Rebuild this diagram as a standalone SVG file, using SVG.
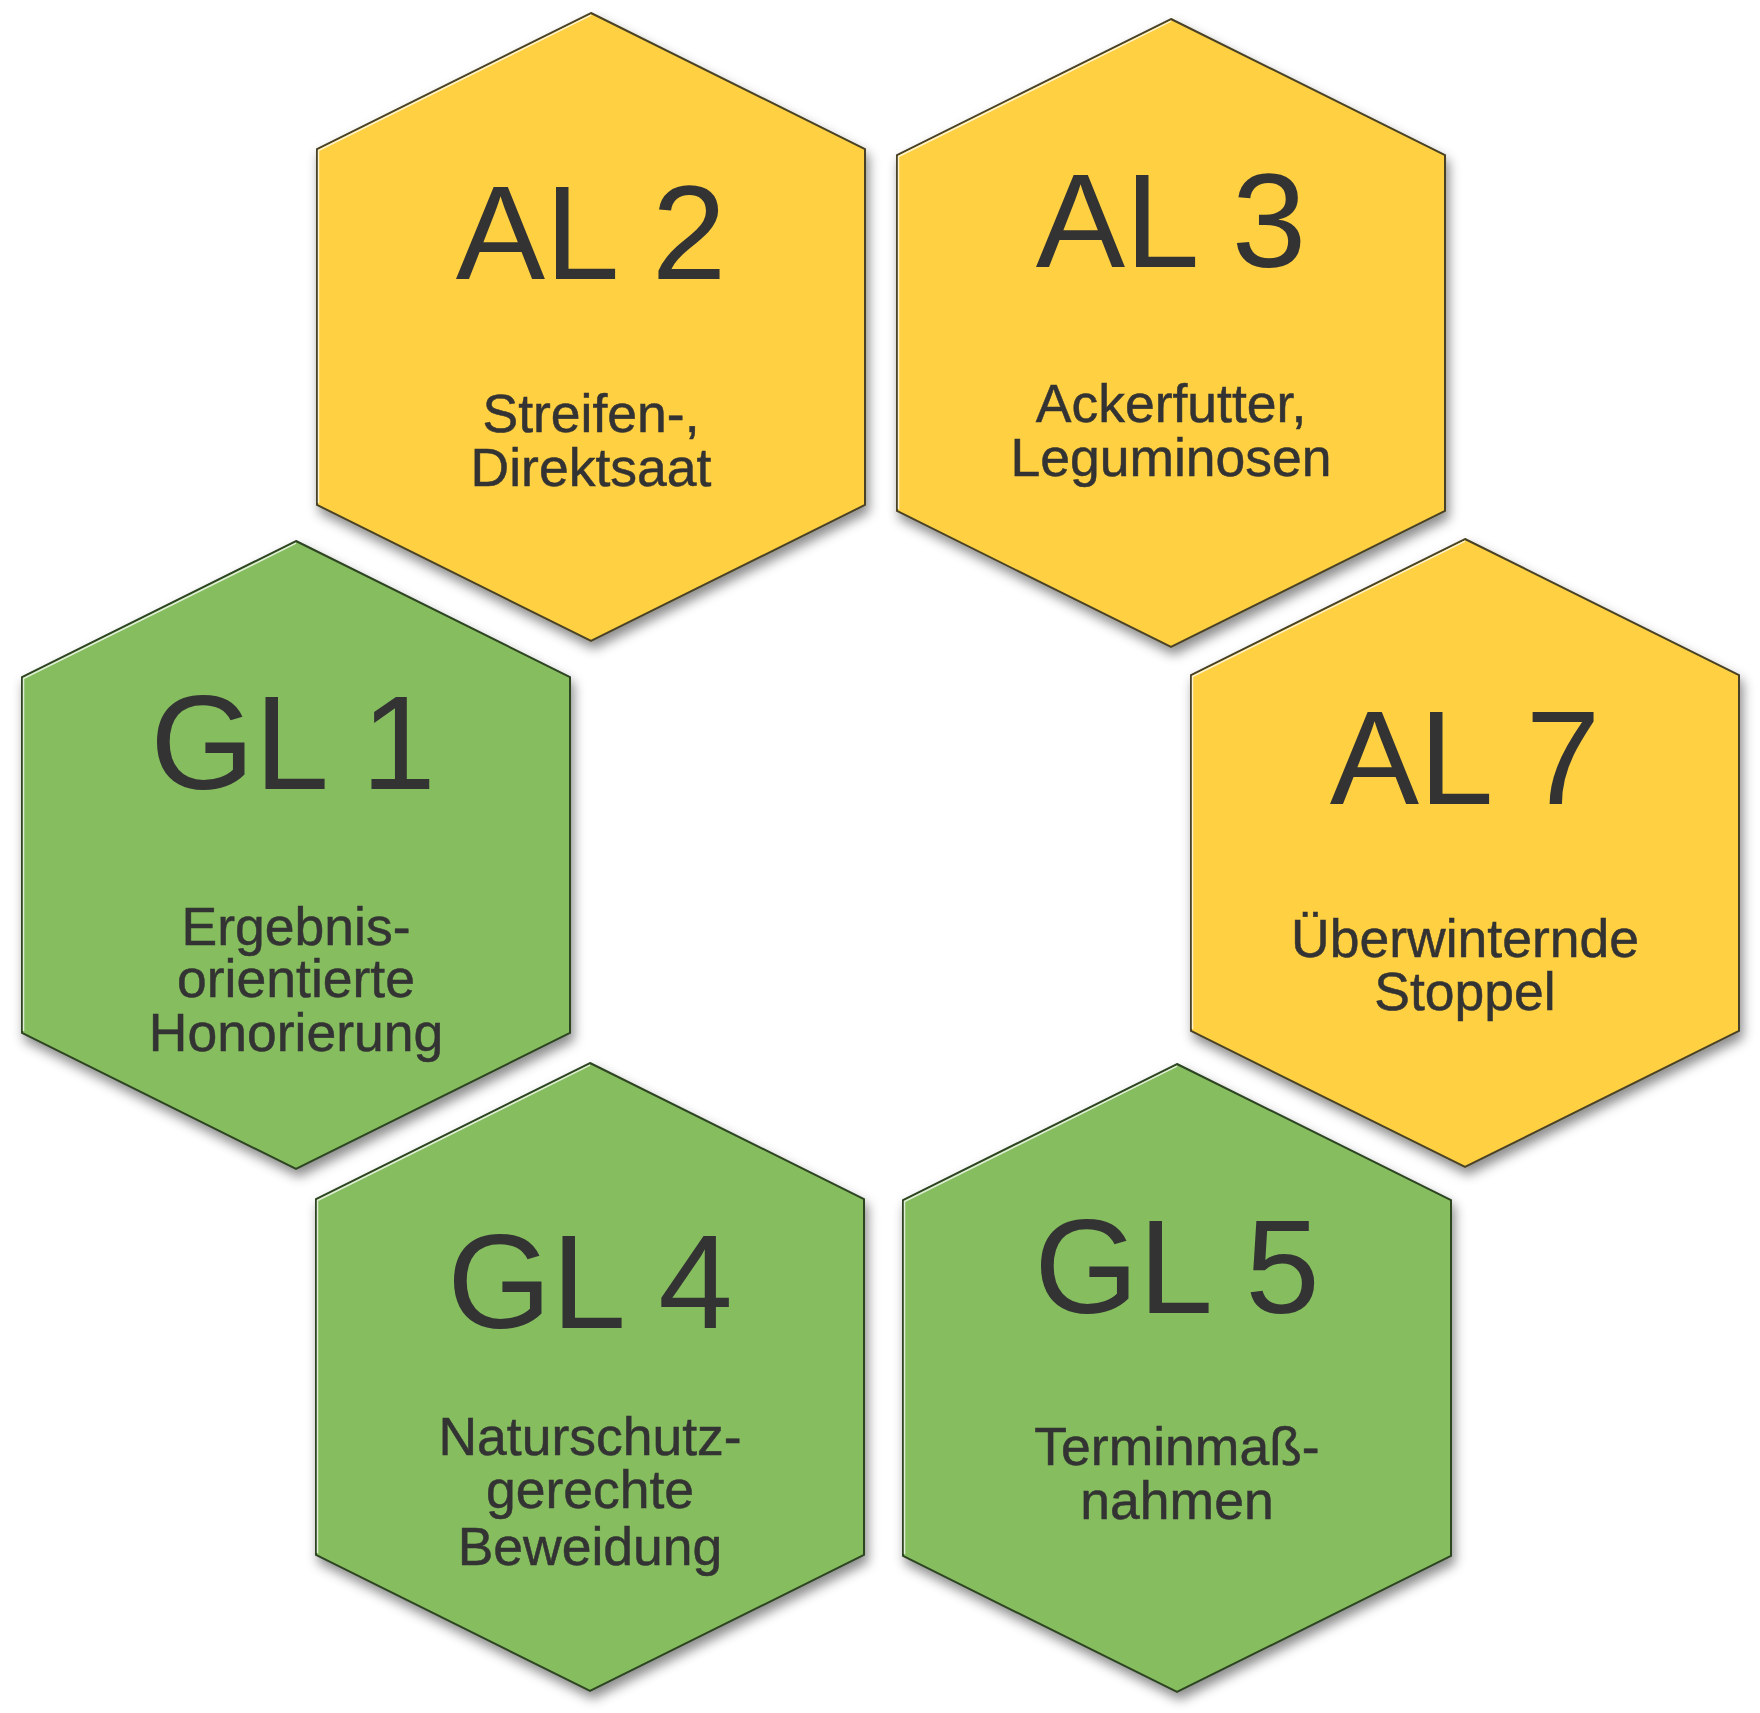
<svg xmlns="http://www.w3.org/2000/svg" xmlns:xlink="http://www.w3.org/1999/xlink" width="1760" height="1713" viewBox="0 0 1760 1713">
<style>
.y{fill:#FFD042;stroke:#4A4325;stroke-width:2}
.g{fill:#86BD5F;stroke:#2E4424;stroke-width:2}
.hl{fill:none;stroke:#ffffff;stroke-opacity:0.75;stroke-width:1.5}
.t{font-family:"Liberation Sans",Arial,sans-serif;fill:#333333;text-anchor:middle}
.big{font-size:134px}
.sub{font-size:53.5px;stroke:#333333;stroke-width:0.5}
</style>
<defs>
<filter id="sh" x="-20%" y="-20%" width="140%" height="140%">
<feDropShadow dx="3" dy="7" stdDeviation="6" flood-color="#000" flood-opacity="0.45"/>
</filter>
<polygon id="hex" points="0,0 274,136 274,492 0,628 -274,492 -274,136"/>
<polyline id="hi" points="-272.5,490 -272.5,137.5 0,2.2"/>
</defs>
<rect width="1760" height="1713" fill="#ffffff"/>
<g id="connectors"/>
<g id="AL2" transform="translate(591,13)">
<use xlink:href="#hex" class="y" filter="url(#sh)"/>
<use xlink:href="#hi" class="hl"/>
<text class="t big" x="0" y="266">AL 2</text>
<text class="t sub" x="0" y="419">Streifen-,</text>
<text class="t sub" x="0" y="473">Direktsaat</text>
</g>
<g id="AL3" transform="translate(1171,19)">
<use xlink:href="#hex" class="y" filter="url(#sh)"/>
<use xlink:href="#hi" class="hl"/>
<text class="t big" x="0" y="248">AL 3</text>
<text class="t sub" x="0" y="403">Ackerfutter,</text>
<text class="t sub" x="0" y="457">Leguminosen</text>
</g>
<g id="AL7" transform="translate(1465,539)">
<use xlink:href="#hex" class="y" filter="url(#sh)"/>
<use xlink:href="#hi" class="hl"/>
<text class="t big" x="0" y="265">AL 7</text>
<text class="t sub" x="0" y="418">Überwinternde</text>
<text class="t sub" x="0" y="471">Stoppel</text>
</g>
<g id="GL1" transform="translate(296,541)">
<use xlink:href="#hex" class="g" filter="url(#sh)"/>
<use xlink:href="#hi" class="hl"/>
<text class="t big" x="-3" y="248">GL 1</text>
<text class="t sub" x="0" y="404">Ergebnis-</text>
<text class="t sub" x="0" y="456">orientierte</text>
<text class="t sub" x="0" y="510">Honorierung</text>
</g>
<g id="GL4" transform="translate(590,1063)">
<use xlink:href="#hex" class="g" filter="url(#sh)"/>
<use xlink:href="#hi" class="hl"/>
<text class="t big" x="0" y="265">GL 4</text>
<text class="t sub" x="0" y="392">Naturschutz-</text>
<text class="t sub" x="0" y="445">gerechte</text>
<text class="t sub" x="0" y="502">Beweidung</text>
</g>
<g id="GL5" transform="translate(1177,1064)">
<use xlink:href="#hex" class="g" filter="url(#sh)"/>
<use xlink:href="#hi" class="hl"/>
<text class="t big" x="0" y="249">GL 5</text>
<text class="t sub" x="0" y="401">Terminmaß-</text>
<text class="t sub" x="0" y="455">nahmen</text>
</g>
</svg>
